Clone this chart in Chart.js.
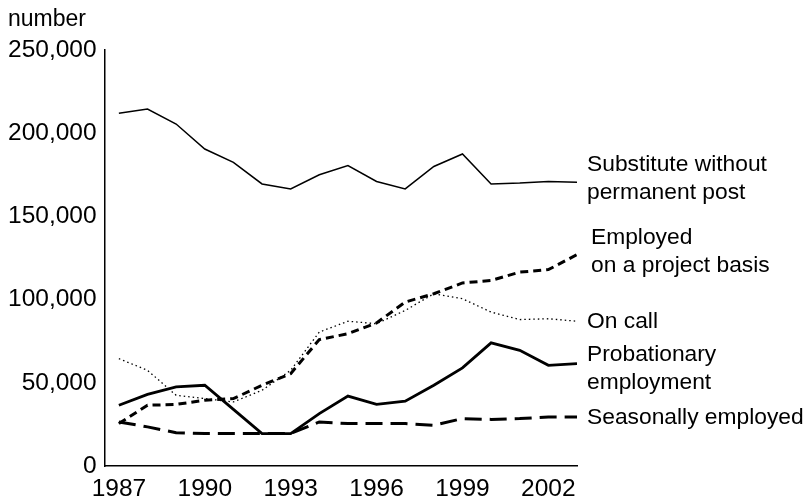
<!DOCTYPE html>
<html>
<head>
<meta charset="utf-8">
<script src="https://cdn.jsdelivr.net/npm/chart.js@4"></script>
<style>
  html, body { margin: 0; padding: 0; background: #fff; }
  #wrap { width: 807px; height: 498px; position: relative; }
</style>
</head>
<body>
<div id="wrap"><canvas id="c" width="807" height="498"></canvas></div>
<script>
const years = [1987,1988,1989,1990,1991,1992,1993,1994,1995,1996,1997,1998,1999,2000,2001,2002,2003];
const xTickLabels = [1987,1990,1993,1996,1999,2002];
const yTickValues = [0,50000,100000,150000,200000,250000];

const substitute   = [212000,214500,205500,190500,182500,169500,166500,175000,180500,171000,166500,180000,187500,169500,170000,171000,170500];
const projectBasis = [25500,36500,37000,39500,40500,48500,55500,76000,79500,86000,98500,103500,110000,111500,116500,118000,127000];
const onCall       = [64500,57500,42500,40500,38500,45500,57500,80500,87000,85500,93500,103500,100500,92500,88000,88500,87000];
const probationary = [36500,43000,47500,48500,34000,19500,19500,31500,42000,37000,39000,48500,59000,74000,69500,60500,61500];
const seasonal     = [26500,23500,20000,19500,19500,19500,19500,26500,25500,25500,25500,24500,28500,28000,28500,29500,29500];

const seriesNames = ["Substitute without permanent post","Employed on a project basis","On call","Probationary employment","Seasonally employed"];
const labelLines = [["Substitute without","permanent post"],["Employed","on a project basis"],["On call"],["Probationary","employment"],["Seasonally employed"]];
const labelAnchorValues = [181300,137300,87000,66900,29000];
const labelXOffsets = [10,14,10,10,10];

const FONT = "'Liberation Sans', Arial, Helvetica, sans-serif";

function pts(arr){ return arr.map((v,i)=>({x: years[i], y: v})); }

const labelPlugin = {
  id: 'rightLabels',
  afterDraw(chart) {
    const ctx = chart.ctx;
    const ys = chart.scales.y;
    const area = chart.chartArea;
    ctx.save();
    ctx.fillStyle = '#000';
    ctx.font = '22.8px ' + FONT;
    ctx.textBaseline = 'middle';
    ctx.textAlign = 'left';
    labelLines.forEach((lines, i) => {
      const y0 = ys.getPixelForValue(labelAnchorValues[i]);
      lines.forEach((t, j) => ctx.fillText(t, area.right + labelXOffsets[i], y0 + j * 28.5));
    });
    ctx.font = '23px ' + FONT;
    ctx.fillText('number', 8, 20);
    ctx.restore();
  }
};

new Chart(document.getElementById('c'), {
  type: 'line',
  data: {
    datasets: [
      { label: seriesNames[0], data: pts(substitute), borderColor: '#000', borderWidth: 1.5 },
      { label: seriesNames[1], data: pts(projectBasis), borderColor: '#000', borderWidth: 3, borderDash: [8,5] },
      { label: seriesNames[2], data: pts(onCall), borderColor: '#000', borderWidth: 1.3, borderDash: [1.5,3] },
      { label: seriesNames[3], data: pts(probationary), borderColor: '#000', borderWidth: 2.8 },
      { label: seriesNames[4], data: pts(seasonal), borderColor: '#000', borderWidth: 3, borderDash: [17,8] }
    ]
  },
  options: {
    responsive: false,
    animation: false,
    events: [],
    elements: { point: { radius: 0 }, line: { tension: 0, fill: false } },
    layout: { padding: { left: 0, right: 230, top: 50, bottom: -14.5 } },
    plugins: { legend: { display: false }, tooltip: { enabled: false }, title: { display: false } },
    scales: {
      x: {
        type: 'linear',
        min: 1986.5,
        max: 2003,
        afterBuildTicks: (s) => { s.ticks = xTickLabels.map(v => ({ value: v })); },
        grid: { display: false, drawTicks: false },
        border: { display: true, color: '#000', width: 1.5 },
        ticks: {
          color: '#000',
          padding: 11,
          maxRotation: 0,
          autoSkip: false,
          font: { family: FONT, size: 24.5, lineHeight: 1 },
          callback: (v) => String(v)
        }
      },
      y: {
        min: 0,
        max: 250000,
        afterBuildTicks: (s) => { s.ticks = yTickValues.map(v => ({ value: v })); },
        grid: { display: false, drawTicks: false },
        border: { display: true, color: '#000', width: 1.5 },
        ticks: {
          color: '#000',
          padding: 8,
          font: { family: FONT, size: 24.5, lineHeight: 1 },
          callback: (v) => Number(v).toLocaleString('en-US')
        }
      }
    }
  },
  plugins: [labelPlugin]
});
</script>
</body>
</html>
